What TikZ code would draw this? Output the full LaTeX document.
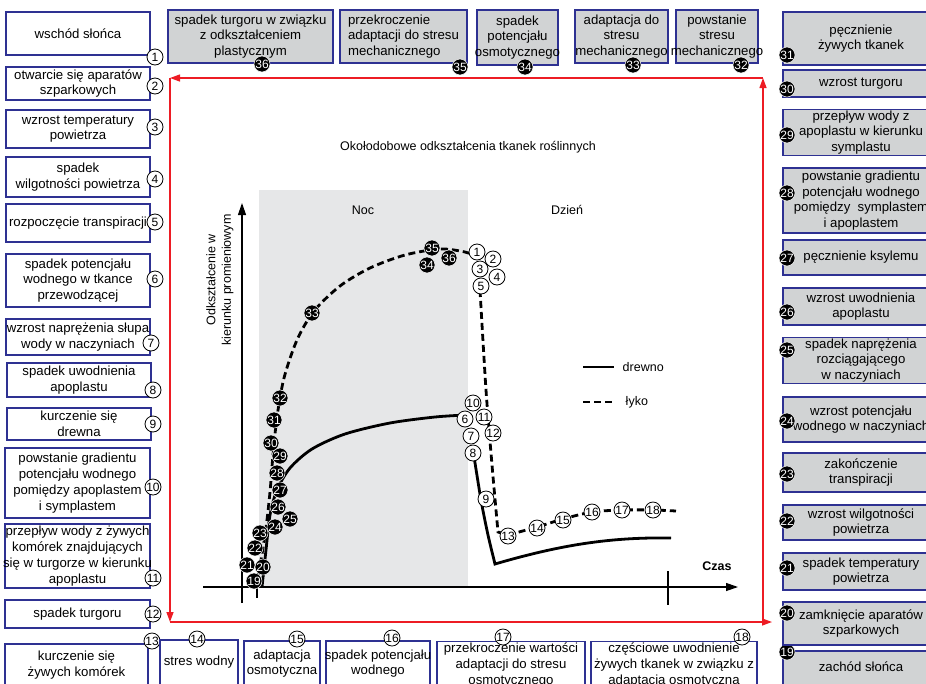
\documentclass[tikz,border=0pt]{standalone}
\usepackage{fontspec}
\setmainfont{Liberation Sans}
\usepackage{tikz}
\usetikzlibrary{arrows.meta,positioning}
\definecolor{boxblue}{HTML}{2E3192}
\definecolor{boxgray}{HTML}{D1D3D4}
\definecolor{nightgray}{HTML}{E6E7E8}
\definecolor{cyclered}{HTML}{ED1C24}
\newcommand{\boxfont}{\fontsize{13.2}{15.8}\selectfont}
\newcommand{\plotfont}{\fontsize{12.5}{15.5}\selectfont}
\newcommand{\numfont}{\fontsize{12}{12}\selectfont}
\tikzset{
  wbox/.style   ={draw=boxblue,line width=1.5pt,fill=white,inner xsep=-6pt,
                  inner ysep=1pt,align=center,font=\boxfont},
  gbox/.style   ={draw=boxblue,line width=1.5pt,fill=boxgray,inner xsep=-6pt,
                  inner ysep=1pt,align=center,font=\boxfont},
  wnum/.style   ={circle,draw=black,line width=0.8pt,fill=white,inner sep=0pt,
                  minimum size=16pt,font=\numfont},
  bnum/.style   ={circle,draw=white,line width=0.5pt,fill=black,text=white,
                  inner sep=0pt,minimum size=16pt,font=\numfont},
  drewno/.style ={line width=2.8pt},
  lyko/.style   ={line width=2.8pt,dash pattern=on 7pt off 4pt},
  redflow/.style={-{Triangle[length=10pt,width=7pt]},line width=1.3pt,draw=cyclered},
  axisline/.style={-{Triangle[length=12pt,width=8pt]},line width=1.2pt}
}

\begin{document}
\begin{tikzpicture}[x=1pt,y=-1pt,font=\plotfont]
  \useasboundingbox (0,0) rectangle (926,683);
  % noc, osie
  \fill[nightgray] (259,190) rectangle (468,587);
  \coordinate (yfoot) at (242,603);
  \coordinate (ytip)  at (242,203);
  \coordinate (xfoot) at (203,587);
  \coordinate (xtip)  at (738,587);
  \coordinate (t1a) at (257,587); \coordinate (t1b) at (257,598);
  \coordinate (t2a) at (668,571); \coordinate (t2b) at (668,605);
  \draw[axisline] (yfoot) -- (ytip);
  \draw[axisline] (xfoot) -- (xtip);
  \draw[line width=1.2pt] (t1a) -- (t1b) (t2a) -- (t2b);
  \node (title) at (468,147) {Okołodobowe odkształcenia tkanek roślinnych};
  \node (noc)   at (363,210) {Noc};
  \node (dzien) at (567,210) {Dzień};
  \node[font=\plotfont\bfseries] (czas) at (717,566) {Czas};
  \node[rotate=90,align=center] (ylab) at (220,280) {Odkształcenie w\\kierunku promieniowym};
  % legenda
  \coordinate (ld1) at (583,367); \coordinate (ld2) at (614,367);
  \coordinate (ll1) at (583,402); \coordinate (ll2) at (614,402);
  \draw[drewno] (ld1) -- (ld2) node[right=4pt] (legd) {drewno};
  \draw[lyko] (ll1) -- (ll2) node[right=7pt] (legl) {łyko};
  % krzywe
  \draw[lyko] plot[smooth] coordinates {(256,586) (261,560) (266,528) (270,492)
    (273,455) (277,417) (284,378) (297,340) (314,311) (340,286) (370,268)
    (405,255) (440,249) (465,252) (478,257)};
  \draw[lyko] plot[smooth] coordinates {(480,290) (486,390) (492,465) (498,532)} -- (508,535);
  \draw[lyko] plot[smooth] coordinates {(508,535) (537,527) (563,519) (592,512)
    (622,510) (653,510) (676,511)};
  \draw[drewno] plot[smooth] coordinates {(262,587) (266,550) (270,515) (277,490)
    (290,468) (312,449) (345,434) (390,423) (435,417) (466,415)};
  \draw[drewno] plot[smooth] coordinates {(473,450) (481,500) (488,535) (495,564)}
    .. controls (560,545) and (610,537) .. (671,538);
  % punkty na wykresie
  \node[wnum] (p2)  at (493,259) {2};
  \node[wnum] (p1)  at (477,252) {1};
  \node[wnum] (p4)  at (497,277) {4};
  \node[wnum] (p3)  at (480,269) {3};
  \node[wnum] (p5)  at (481,286) {5};
  \node[wnum] (p10) at (473,403) {10};
  \node[wnum] (p6)  at (465,419) {6};
  \node[wnum] (p11) at (484,417) {11};
  \node[wnum] (p12) at (493,433) {12};
  \node[wnum] (p7)  at (471,436) {7};
  \node[wnum] (p8)  at (473,453) {8};
  \node[wnum] (p9)  at (486,499) {9};
  \node[wnum] (p13) at (508,536) {13};
  \node[wnum] (p14) at (537,528) {14};
  \node[wnum] (p15) at (563,520) {15};
  \node[wnum] (p16) at (592,512) {16};
  \node[wnum] (p17) at (622,510) {17};
  \node[wnum] (p18) at (653,510) {18};
  \node[bnum] (p19) at (254,581) {19};
  \node[bnum] (p21) at (247,565) {21};
  \node[bnum] (p20) at (263,567) {20};
  \node[bnum] (p22) at (255,548) {22};
  \node[bnum] (p23) at (260,533) {23};
  \node[bnum] (p25) at (290,519) {25};
  \node[bnum] (p24) at (275,527) {24};
  \node[bnum] (p26) at (278,507) {26};
  \node[bnum] (p27) at (280,490) {27};
  \node[bnum] (p28) at (277,473) {28};
  \node[bnum] (p29) at (280,456) {29};
  \node[bnum] (p30) at (271,443) {30};
  \node[bnum] (p31) at (274,420) {31};
  \node[bnum] (p32) at (280,398) {32};
  \node[bnum] (p33) at (312,313) {33};
  \node[bnum] (p34) at (427,265) {34};
  \node[bnum] (p35) at (432,248) {35};
  \node[bnum] (p36) at (449,258) {36};
  % obieg
  \coordinate (rtl)  at (170,78);
  \coordinate (rtr)  at (763,78);
  \coordinate (rbl)  at (170,622);
  \coordinate (rbr)  at (763,622);
  \coordinate (rend) at (772,622);
  \draw[redflow] (rtr) -- (rtl);
  \draw[redflow] (rtl) -- (rbl);
  \draw[redflow] (rbl) -- (rend);
  \draw[redflow] (rbr) -- (rtr);
  % lewa kolumna
  \node[wbox,minimum width=144,minimum height=43] (b1) at (78,33.5) {wschód słońca};
  \node[wnum] (n1) at (155,57) {1};
  \node[wbox,minimum width=144,minimum height=33] (b2) at (78,83.5) {otwarcie się aparatów\\szparkowych};
  \node[wnum] (n2) at (155,86) {2};
  \node[wbox,minimum width=144,minimum height=38] (b3) at (78,129) {wzrost temperatury\\powietrza};
  \node[wnum] (n3) at (155,127) {3};
  \node[wbox,minimum width=144,minimum height=40] (b4) at (78,177) {spadek\\wilgotności powietrza};
  \node[wnum] (n4) at (155,179) {4};
  \node[wbox,minimum width=144,minimum height=38] (b5) at (78,223) {rozpoczęcie transpiracji};
  \node[wnum] (n5) at (155,222) {5};
  \node[wbox,minimum width=144,minimum height=53] (b6) at (78,280.5) {spadek potencjału\\wodnego w tkance\\przewodzącej};
  \node[wnum] (n6) at (155,279) {6};
  \node[wbox,minimum width=144,minimum height=36] (b7) at (78,337) {wzrost naprężenia słupa\\wody w naczyniach};
  \node[wnum] (n7) at (151,343) {7};
  \node[wbox,minimum width=144,minimum height=34] (b8) at (79,380) {spadek uwodnienia\\apoplastu};
  \node[wnum] (n8) at (153,390) {8};
  \node[wbox,minimum width=144,minimum height=32] (b9) at (79,424) {kurczenie się\\drewna};
  \node[wnum] (n9) at (153,424) {9};
  \node[wbox,minimum width=145,minimum height=70] (b10) at (77.5,483) {powstanie gradientu\\potencjału wodnego\\pomiędzy apoplastem\\i symplastem};
  \node[wnum] (n10) at (153,487) {10};
  \node[wbox,minimum width=145,minimum height=64] (b11) at (77.5,556) {przepływ wody z żywych\\komórek znajdujących\\się w turgorze w kierunku\\apoplastu};
  \node[wnum] (n11) at (153,578) {11};
  \node[wbox,minimum width=145,minimum height=28] (b12) at (77.5,614) {spadek turgoru};
  \node[wnum] (n12) at (153,614) {12};
  \node[wbox,minimum width=143,minimum height=42] (b13) at (76.5,665) {kurczenie się\\żywych komórek};
  \node[wnum] (n13) at (152,641) {13};
  % dolny rzad
  \node[wbox,minimum width=78,minimum height=45] (b14) at (199,662.5) {stres wodny};
  \node[wnum] (n14) at (197,639) {14};
  \node[wbox,minimum width=76,minimum height=45] (b15) at (282,663.5) {adaptacja\\osmotyczna};
  \node[wnum] (n15) at (297,639) {15};
  \node[wbox,minimum width=104,minimum height=45] (b16) at (378,663.5) {spadek potencjału\\wodnego};
  \node[wnum] (n16) at (392,638) {16};
  \node[wbox,minimum width=148,minimum height=47] (b17) at (511,665) {przekroczenie wartości\\adaptacji do stresu\\osmotycznego};
  \node[wnum] (n17) at (503,637) {17};
  \node[wbox,minimum width=166,minimum height=47] (b18) at (674,665) {częściowe uwodnienie\\żywych tkanek w związku z\\adaptacją osmotyczną};
  \node[wnum] (n18) at (742,637) {18};
  % prawa kolumna
  \node[gbox,minimum width=156,minimum height=49,text depth=18pt] (b19) at (861,675.5) {zachód słońca};
  \node[bnum] (n19) at (787,652) {19};
  \node[gbox,minimum width=156,minimum height=43] (b20) at (861,623.5) {zamknięcie aparatów\\szparkowych};
  \node[bnum] (n20) at (787,613) {20};
  \node[gbox,minimum width=156,minimum height=37] (b21) at (861,571.5) {spadek temperatury\\powietrza};
  \node[bnum] (n21) at (787,568) {21};
  \node[gbox,minimum width=156,minimum height=35] (b22) at (861,522.5) {wzrost wilgotności\\powietrza};
  \node[bnum] (n22) at (787,521) {22};
  \node[gbox,minimum width=156,minimum height=39] (b23) at (861,472.5) {zakończenie\\transpiracji};
  \node[bnum] (n23) at (787,474) {23};
  \node[gbox,minimum width=156,minimum height=45] (b24) at (861,419.5) {wzrost potencjału\\wodnego w naczyniach};
  \node[bnum] (n24) at (787,421) {24};
  \node[gbox,minimum width=156,minimum height=45] (b25) at (861,360.5) {spadek naprężenia\\rozciągającego\\w naczyniach};
  \node[bnum] (n25) at (787,350) {25};
  \node[gbox,minimum width=156,minimum height=37] (b26) at (861,306.5) {wzrost uwodnienia\\apoplastu};
  \node[bnum] (n26) at (787,312) {26};
  \node[gbox,minimum width=156,minimum height=35] (b27) at (861,257.5) {pęcznienie ksylemu};
  \node[bnum] (n27) at (787,258) {27};
  \node[gbox,minimum width=156,minimum height=65] (b28) at (861,200.5) {powstanie gradientu\\potencjału wodnego\\pomiędzy \ symplastem\\i apoplastem};
  \node[bnum] (n28) at (787,193) {28};
  \node[gbox,minimum width=156,minimum height=45] (b29) at (861,132.5) {przepływ wody z\\apoplastu w kierunku\\symplastu};
  \node[bnum] (n29) at (787,135) {29};
  \node[gbox,minimum width=156,minimum height=27] (b30) at (861,83.5) {wzrost turgoru};
  \node[bnum] (n30) at (787,89) {30};
  \node[gbox,minimum width=156,minimum height=53] (b31) at (861,38.5) {pęcznienie\\żywych tkanek};
  \node[bnum] (n31) at (787,55) {31};
  % gorny rzad
  \node[gbox,minimum width=82,minimum height=53] (b32) at (717,36.5) {powstanie\\stresu\\mechanicznego};
  \node[bnum] (n32) at (741,65) {32};
  \node[gbox,minimum width=93,minimum height=53] (b33) at (621.5,36.5) {adaptacja do\\stresu\\mechanicznego};
  \node[bnum] (n33) at (633,65) {33};
  \node[gbox,minimum width=81,minimum height=55] (b34) at (517.5,37.5) {spadek\\potencjału\\osmotycznego};
  \node[bnum] (n34) at (525,67) {34};
  \node[gbox,align=left,minimum width=127,minimum height=53] (b35) at (403.5,36.5) {przekroczenie\\adaptacji do stresu\\mechanicznego};
  \node[bnum] (n35) at (460,67) {35};
  \node[gbox,minimum width=165,minimum height=53] (b36) at (250.5,36.5) {spadek turgoru w związku\\z odkształceniem\\plastycznym};
  \node[bnum] (n36) at (262,64) {36};
\end{tikzpicture}
\end{document}
